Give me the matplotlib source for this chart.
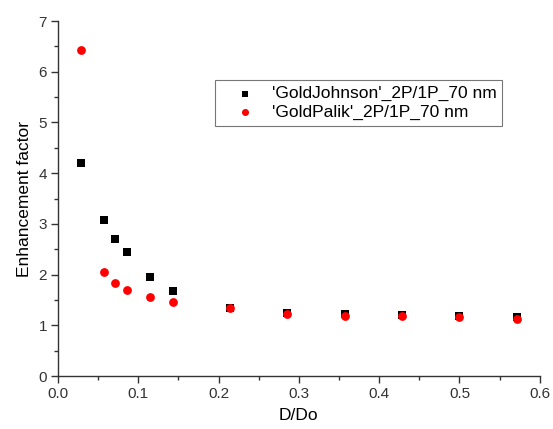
import matplotlib
matplotlib.use('Agg')
import matplotlib.pyplot as plt
from matplotlib.ticker import MultipleLocator

# data
d_do = [0.0286, 0.0571, 0.0714, 0.0857, 0.1143, 0.1429, 0.2143,
        0.2857, 0.3571, 0.4286, 0.5, 0.5714]
johnson = [4.20, 3.08, 2.70, 2.44, 1.95, 1.68, 1.35, 1.24, 1.22, 1.20, 1.19, 1.17]
palik = [6.42, 2.05, 1.84, 1.69, 1.55, 1.45, 1.34, 1.22, 1.19, 1.19, 1.16, 1.13]

plt.rcParams['font.family'] = ['Liberation Sans', 'DejaVu Sans']

fig = plt.figure(figsize=(5.53, 4.29), dpi=100)
ax = fig.add_axes([0.105, 0.1235, 0.871, 0.8275])

ax.scatter(d_do, johnson, marker='s', s=32, color='black', linewidths=0,
           label="'GoldJohnson'_2P/1P_70 nm", zorder=3)
ax.scatter(d_do, palik, marker='o', s=40, color='red', linewidths=0,
           label="'GoldPalik'_2P/1P_70 nm", zorder=4)

ax.set_xlim(0, 0.6)
ax.set_ylim(0, 7)
ax.xaxis.set_major_locator(MultipleLocator(0.1))
ax.xaxis.set_minor_locator(MultipleLocator(0.05))
ax.yaxis.set_major_locator(MultipleLocator(1))
ax.yaxis.set_minor_locator(MultipleLocator(0.5))
ax.xaxis.set_major_formatter(plt.FormatStrFormatter('%.1f'))

ax.spines['top'].set_visible(False)
ax.spines['right'].set_visible(False)
for sp in ('left', 'bottom'):
    ax.spines[sp].set_color('#333333')
    ax.spines[sp].set_linewidth(1.0)
ax.tick_params(which='major', direction='out', length=5, width=1,
               labelsize=11, colors='#333333', pad=3)
ax.tick_params(which='minor', direction='out', length=3, width=1, colors='#333333')

ax.set_xlabel('D/Do', fontsize=12.5, labelpad=5)
ax.set_ylabel('Enhancement factor', fontsize=12.5, labelpad=5)

leg = ax.legend(loc='upper left', bbox_to_anchor=(0.326, 0.834),
                borderaxespad=0, fontsize=12.5, frameon=True, fancybox=False,
                edgecolor='#555555', handlelength=2.8, handletextpad=0.1,
                borderpad=0.35, labelspacing=0.2, markerscale=0.8)
leg.get_frame().set_linewidth(0.8)

fig.savefig('out.png', dpi=100)
